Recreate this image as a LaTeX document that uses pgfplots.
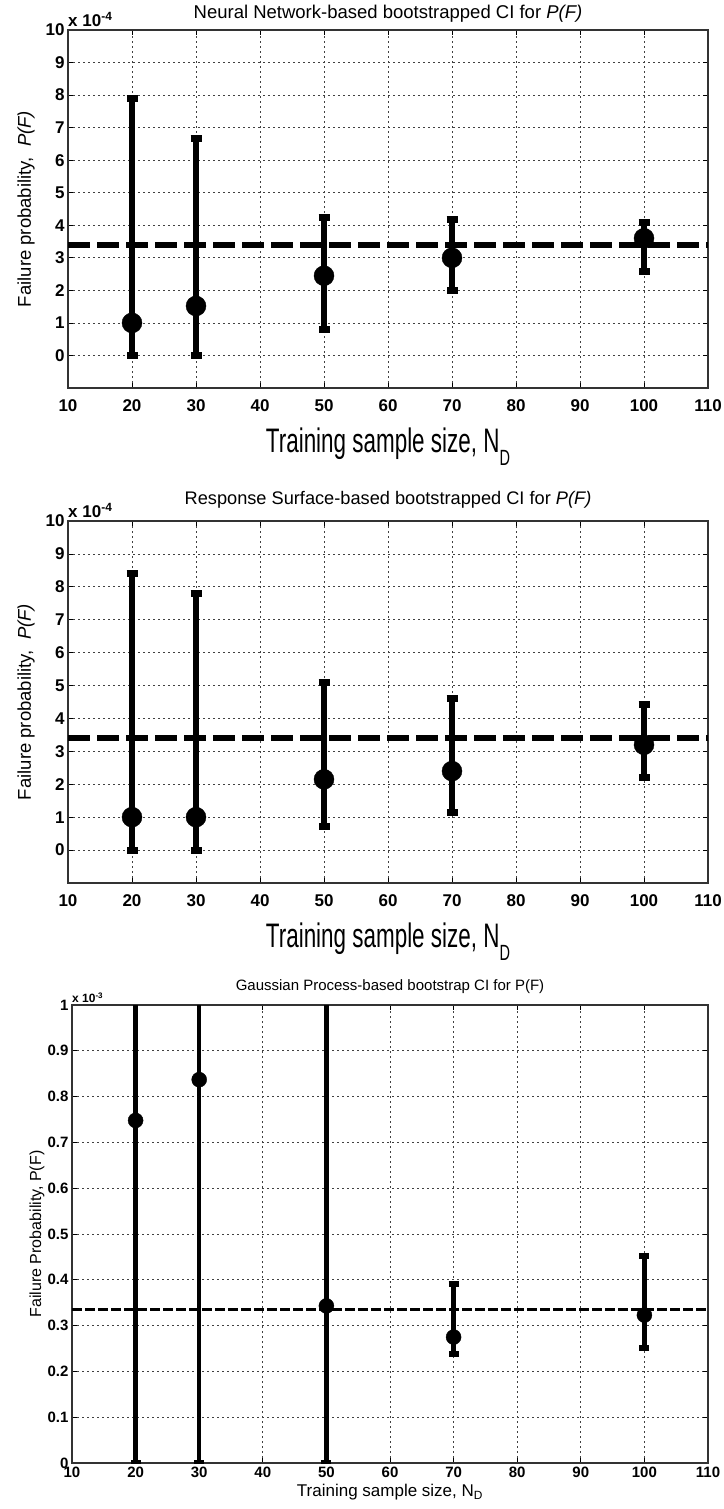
\documentclass[border=0pt]{standalone}
\usepackage{pgfplots}
\pgfplotsset{compat=1.18}
\usepackage{pgfplotstable}
\usepackage{fontspec}
\setmainfont{Liberation Sans}

\pgfplotstableread{
x y lo hi
20 1.00 0 7.90
30 1.52 0 6.68
50 2.45 0.80 4.25
70 3.00 2.00 4.18
100 3.60 2.57 4.10
}\nn
\pgfplotstableread{
x y lo hi
20 1.00 0 8.42
30 1.00 0 7.80
50 2.15 0.73 5.10
70 2.40 1.13 4.60
100 3.20 2.20 4.42
}\rs
\pgfplotstableread{
x y lo hi
20 0.748 0 1.3
30 0.837 0 1.3
50 0.343 0 1.3
70 0.275 0.237 0.390
100 0.323 0.252 0.452
}\gp

\pgfplotsset{
  common/.style={
    scale only axis,
    xmin=10, xmax=110, xtick={10,20,...,110},
    grid=major,
    major grid style={black!75, line width=0.8pt, dash pattern=on 2pt off 3pt},
    axis line style={black!80, line width=1.2pt},
    tick style={black, line width=0.8pt},
    tick align=inside, major tick length=5pt,
    /pgf/number format/assume math mode=true,
  },
}

\begin{document}
\begin{tikzpicture}
\useasboundingbox (0,0) rectangle (723pt,-1509pt);

% ---------- Panel 1 ----------
\begin{axis}[common,
  at={(68pt,-30pt)}, anchor=north west,
  width=640pt, height=358pt,
  ymin=-1, ymax=10, ytick={0,1,...,10},
  ticklabel style={font=\fontsize{17}{17}\selectfont\bfseries},
  xticklabel style={yshift=-8pt},
  title={Neural Network-based bootstrapped CI for \textit{P(F)}},
  title style={font=\fontsize{18.5}{19}\selectfont, at={(0.5,1)}, anchor=south, yshift=-2pt},
  ylabel={Failure probability,\ \ \textit{P(F)}},
  ylabel style={font=\fontsize{18.5}{19}\selectfont, at={(axis description cs:0,0.5)}, anchor=center, yshift=42pt},
  xlabel={\scalebox{0.66}[1]{\fontsize{34}{34}\selectfont Training sample size, N\raisebox{-0.4em}{\fontsize{22}{22}\selectfont D}}},
  xlabel style={at={(axis description cs:0.5,0)}, anchor=north, yshift=-36pt},
  after end axis/.code={\node[anchor=south west, inner sep=0pt, font=\fontsize{17}{17}\selectfont\bfseries] at (rel axis cs:0,1) [yshift=3pt] {x 10\textsuperscript{-4}};},
]
\addplot[black, line width=6pt, dash pattern=on 22pt off 7pt] coordinates {(10,3.4) (110,3.4)};
\addplot[black, only marks, mark=*, mark size=10pt,
  error bars/.cd, y dir=both, y explicit,
  error bar style={line width=6pt, black},
  error mark options={rotate=90, line width=7pt, mark size=5.5pt, black}]
  table[x=x, y=y, y error plus expr=\thisrow{hi}-\thisrow{y}, y error minus expr=\thisrow{y}-\thisrow{lo}] {\nn};
\end{axis}

% ---------- Panel 2 ----------
\begin{axis}[common,
  at={(68pt,-521pt)}, anchor=north west,
  width=640pt, height=362pt,
  ymin=-1, ymax=10, ytick={0,1,...,10},
  ticklabel style={font=\fontsize{17}{17}\selectfont\bfseries},
  xticklabel style={yshift=-8pt},
  title={Response Surface-based bootstrapped CI for \textit{P(F)}},
  title style={font=\fontsize{18.2}{19}\selectfont, at={(0.5,1)}, anchor=south, yshift=3pt},
  ylabel={Failure probability,\ \ \textit{P(F)}},
  ylabel style={font=\fontsize{18.5}{19}\selectfont, at={(axis description cs:0,0.5)}, anchor=center, yshift=42pt},
  xlabel={\scalebox{0.66}[1]{\fontsize{34}{34}\selectfont Training sample size, N\raisebox{-0.4em}{\fontsize{22}{22}\selectfont D}}},
  xlabel style={at={(axis description cs:0.5,0)}, anchor=north, yshift=-36pt},
  after end axis/.code={\node[anchor=south west, inner sep=0pt, font=\fontsize{17}{17}\selectfont\bfseries] at (rel axis cs:0,1) [yshift=3pt] {x 10\textsuperscript{-4}};},
]
\addplot[black, line width=6pt, dash pattern=on 22pt off 7pt] coordinates {(10,3.4) (110,3.4)};
\addplot[black, only marks, mark=*, mark size=10pt,
  error bars/.cd, y dir=both, y explicit,
  error bar style={line width=6pt, black},
  error mark options={rotate=90, line width=7pt, mark size=5.5pt, black}]
  table[x=x, y=y, y error plus expr=\thisrow{hi}-\thisrow{y}, y error minus expr=\thisrow{y}-\thisrow{lo}] {\rs};
\end{axis}

% ---------- Panel 3 ----------
\begin{axis}[common,
  at={(72pt,-1005pt)}, anchor=north west,
  width=636pt, height=458pt,
  ymin=0, ymax=1, ytick={0,0.1,...,1.01},
  yticklabels={0,0.1,0.2,0.3,0.4,0.5,0.6,0.7,0.8,0.9,1},
  ticklabel style={font=\fontsize{15}{15}\selectfont\bfseries},
  title={Gaussian Process-based bootstrap CI for P(F)},
  title style={font=\fontsize{15}{15}\selectfont, at={(0.5,1)}, anchor=south, yshift=2pt},
  ylabel={Failure Probability, P(F)},
  ylabel style={font=\fontsize{16}{16}\selectfont, at={(axis description cs:0,0.5)}, anchor=center, yshift=35pt},
  xlabel={Training sample size, N\textsubscript{D}},
  xlabel style={font=\fontsize{17}{17}\selectfont, at={(axis description cs:0.5,0)}, anchor=north, yshift=-18pt},
  after end axis/.code={\node[anchor=south west, inner sep=0pt, font=\fontsize{12}{12}\selectfont\bfseries] at (rel axis cs:0,1) [yshift=2pt] {x 10\textsuperscript{-3}};},
]
\addplot[black, line width=3.5pt, dash pattern=on 10pt off 3pt] coordinates {(10,0.335) (110,0.335)};
\addplot[black, only marks, mark=*, mark size=7.5pt,
  error bars/.cd, y dir=both, y explicit,
  error bar style={line width=4.5pt, black},
  error mark options={rotate=90, line width=6pt, mark size=5pt, black}]
  table[x=x, y=y, y error plus expr=\thisrow{hi}-\thisrow{y}, y error minus expr=\thisrow{y}-\thisrow{lo}] {\gp};
\end{axis}
\end{tikzpicture}
\end{document}
